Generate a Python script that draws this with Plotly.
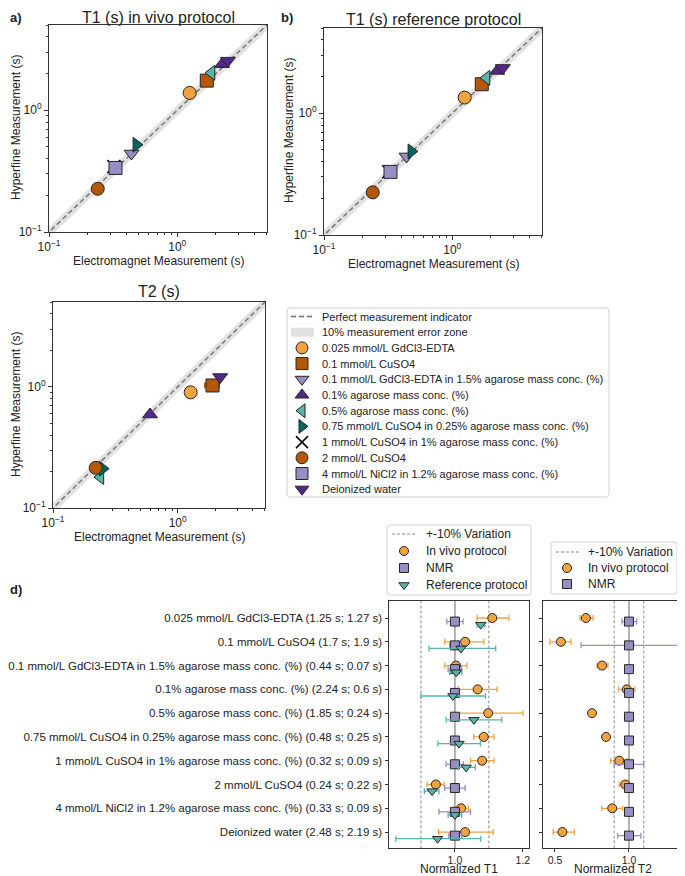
import plotly.graph_objects as go

# page is 685x876; the browser body keeps an 8 px margin, so the figure starts at (8, 8)
PAGE_W, PAGE_H = 685, 876
OFF = 8
W, H = PAGE_W - OFF, PAGE_H - OFF
FONT = "Liberation Sans, Arial, sans-serif"
TXT = "#222222"

# ---------------- data ----------------
samples = [
    "0.025 mmol/L GdCl3-EDTA",
    "0.1 mmol/L CuSO4",
    "0.1 mmol/L GdCl3-EDTA in 1.5% agarose mass conc. (%)",
    "0.1% agarose mass conc. (%)",
    "0.5% agarose mass conc. (%)",
    "0.75 mmol/L CuSO4 in 0.25% agarose mass conc. (%)",
    "1 mmol/L CuSO4 in 1% agarose mass conc. (%)",
    "2 mmol/L CuSO4",
    "4 mmol/L NiCl2 in 1.2% agarose mass conc. (%)",
    "Deionized water",
]
# electromagnet (NMR) reference values, seconds
nmr_t1 = [1.25, 1.7, 0.44, 2.24, 1.85, 0.48, 0.32, 0.24, 0.33, 2.48]
nmr_t2 = [1.27, 1.9, 0.07, 0.6, 0.24, 0.25, 0.09, 0.22, 0.09, 2.19]

# normalized T1 (hyperfine / NMR)
invivo_t1 = [1.11, 1.03, 1.003, 1.067, 1.098, 1.085, 1.08, 0.944, 1.018, 1.03]
invivo_t1_lo = [1.065, 0.97, 0.97, 1.01, 0.998, 1.055, 1.046, 0.918, 0.998, 0.952]
invivo_t1_hi = [1.159, 1.085, 1.035, 1.124, 1.2, 1.115, 1.115, 0.968, 1.04, 1.113]
nmr_t1_lo = [0.976, 0.985, 0.98, 0.99, 0.995, 0.99, 0.974, 0.97, 0.953, 0.982]
nmr_t1_hi = [1.024, 1.015, 1.02, 1.01, 1.005, 1.01, 1.025, 1.03, 1.046, 1.02]
ref_t1 = [1.076, 1.018, 1.004, 0.994, 1.056, 1.012, 1.033, 0.933, 1.0, 0.949]
ref_t1_lo = [1.065, 0.924, 0.985, 0.90, 0.974, 0.95, 1.01, 0.91, 0.98, 0.826]
ref_t1_hi = [1.088, 1.12, 1.02, 1.09, 1.138, 1.075, 1.06, 0.953, 1.02, 1.076]

# normalized T2 (hyperfine in vivo / NMR)
invivo_t2 = [0.709, 0.54, 0.818, 0.985, 0.75, 0.845, 0.934, 0.975, 0.887, 0.55]
invivo_t2_lo = [0.669, 0.466, 0.784, 0.93, 0.745, 0.84, 0.876, 0.934, 0.815, 0.487]
invivo_t2_hi = [0.757, 0.608, 0.858, 1.04, 0.755, 0.85, 0.986, 1.005, 0.957, 0.63]
nmr_t2_lo = [0.953, 0.676, 0.99, 0.99, 0.995, 0.995, 0.9, 0.99, 0.99, 0.924]
nmr_t2_hi = [1.052, 1.331, 1.01, 1.01, 1.005, 1.005, 1.1, 1.01, 1.01, 1.08]

# x error of electromagnet T2 in scatter panel c (seconds)
t2_scatter_xerr = [0, 0.25, 0, 0, 0, 0, 0, 0, 0, 0]

VAR = 0.10  # +-10 % zone

# ---------------- styles ----------------
ORANGE = "#F1A340"; BROWN = "#B35806"; LPURP = "#998EC3"
DPURP = "#542788"; TEAL = "#5AB4AC"; DTEAL = "#01665E"
sym = ["circle", "square", "triangle-down", "triangle-up", "triangle-left",
       "triangle-right", "x-thin", "circle", "square", "triangle-down"]
col = [ORANGE, BROWN, LPURP, DPURP, TEAL, DTEAL, "black", BROWN, LPURP, DPURP]
EDGE = "#262626"


def mk(i, size):
    if sym[i] == "x-thin":
        return dict(symbol="x-thin", size=size, color="black",
                    line=dict(color="black", width=1.5))
    return dict(symbol=sym[i], size=size, color=col[i], line=dict(color=EDGE, width=1))


def dx(a, b):
    return [(a - OFF) / W, (b - OFF) / W]


def dy(top, bot):
    return [1 - (bot - OFF) / H, 1 - (top - OFF) / H]


fig = go.Figure()

# ---------------- scatter panels a, b, c ----------------
scatter_panels = [
    ("x", "y", nmr_t1, invivo_t1, None),
    ("x2", "y2", nmr_t1, ref_t1, None),
    ("x3", "y3", nmr_t2, invivo_t2, t2_scatter_xerr),
]
LO, HI = 0.05, 10.0
for xa, ya, em, norm, xerr in scatter_panels:
    fig.add_trace(go.Scatter(
        x=[LO, HI, HI, LO], y=[LO * (1 - VAR), HI * (1 - VAR), HI * (1 + VAR), LO * (1 + VAR)],
        fill="toself", fillcolor="rgba(200,200,200,0.55)", mode="lines",
        line=dict(width=0), xaxis=xa, yaxis=ya, showlegend=False, hoverinfo="skip"))
    fig.add_trace(go.Scatter(
        x=[LO, HI], y=[LO, HI], mode="lines",
        line=dict(color="#7a7a7a", width=1.5, dash="5px,3px"),
        xaxis=xa, yaxis=ya, showlegend=False, hoverinfo="skip"))
    for i in range(len(samples)):
        ex = None
        if xerr is not None and xerr[i] > 0:
            ex = dict(type="data", array=[xerr[i]], color=col[i], thickness=1.5, width=3)
        fig.add_trace(go.Scatter(
            x=[em[i]], y=[em[i] * norm[i]], mode="markers", marker=mk(i, 13),
            error_x=ex, xaxis=xa, yaxis=ya, showlegend=False, name=samples[i]))

# ---------------- panel d ----------------
rows = list(range(len(samples)))
labels = [f"{s} ({a:g} s; {b:g} s)" for s, a, b in zip(samples, nmr_t1, nmr_t2)]
OFF_NMR, OFF_REF = 0.15, 0.28


def err(v, lo, hi):
    return dict(type="data", symmetric=False,
                array=[h - x for x, h in zip(v, hi)],
                arrayminus=[x - l for x, l in zip(v, lo)],
                thickness=1.3, width=3)


for xa, ya in (("x4", "y4"), ("x5", "y5")):
    fig.add_trace(go.Scatter(
        x=[1 - VAR, 1 - VAR, None, 1 + VAR, 1 + VAR], y=[-2, 12, None, -2, 12],
        mode="lines", line=dict(color="#8a8a8a", width=1, dash="3px,2px"),
        xaxis=xa, yaxis=ya, showlegend=False, hoverinfo="skip"))

# T1
e = err(invivo_t1, invivo_t1_lo, invivo_t1_hi); e["color"] = ORANGE
fig.add_trace(go.Scatter(x=invivo_t1, y=rows, mode="markers", error_x=e,
                         marker=dict(symbol="circle", size=9, color=ORANGE, line=dict(color=EDGE, width=1)),
                         xaxis="x4", yaxis="y4", showlegend=False))
e = err([1.0] * 10, nmr_t1_lo, nmr_t1_hi); e["color"] = LPURP
fig.add_trace(go.Scatter(x=[1.0] * 10, y=[r + OFF_NMR for r in rows], mode="markers", error_x=e,
                         marker=dict(symbol="square", size=9, color=LPURP, line=dict(color=EDGE, width=1)),
                         xaxis="x4", yaxis="y4", showlegend=False))
e = err(ref_t1, ref_t1_lo, ref_t1_hi); e["color"] = TEAL
fig.add_trace(go.Scatter(x=ref_t1, y=[r + OFF_REF for r in rows], mode="markers", error_x=e,
                         marker=dict(symbol="triangle-down", size=9, color=TEAL, line=dict(color=EDGE, width=1)),
                         xaxis="x4", yaxis="y4", showlegend=False))
# T2
e = err(invivo_t2, invivo_t2_lo, invivo_t2_hi); e["color"] = ORANGE
fig.add_trace(go.Scatter(x=invivo_t2, y=rows, mode="markers", error_x=e,
                         marker=dict(symbol="circle", size=9, color=ORANGE, line=dict(color=EDGE, width=1)),
                         xaxis="x5", yaxis="y5", showlegend=False))
e = err([1.0] * 10, nmr_t2_lo, nmr_t2_hi); e["color"] = LPURP
fig.add_trace(go.Scatter(x=[1.0] * 10, y=[r + OFF_NMR for r in rows], mode="markers", error_x=e,
                         marker=dict(symbol="square", size=9, color=LPURP, line=dict(color=EDGE, width=1)),
                         xaxis="x5", yaxis="y5", showlegend=False))

shapes = []
for xa, ya in (("x4", "y4"), ("x5", "y5")):
    shapes.append(dict(type="line", xref=xa, yref=ya + " domain", x0=1.0, x1=1.0, y0=0, y1=1,
                       line=dict(color="#9a9a9a", width=1.5), layer="below"))

# ---------------- manual legends (page-pixel overlay axes x6/y6) ----------------
ann = []


def box(x0, y0, x1, y1, r=3):
    p = (f"M {x0 + r},{y0} L {x1 - r},{y0} Q {x1},{y0} {x1},{y0 + r} L {x1},{y1 - r} "
         f"Q {x1},{y1} {x1 - r},{y1} L {x0 + r},{y1} Q {x0},{y1} {x0},{y1 - r} "
         f"L {x0},{y0 + r} Q {x0},{y0} {x0 + r},{y0} Z")
    shapes.append(dict(type="path", xref="x6", yref="y6", path=p, layer="below",
                       line=dict(color="#d0d0d0", width=1), fillcolor="white"))


def ltext(x, y, t, size):
    ann.append(dict(xref="x6", yref="y6", x=x, y=y, text=t, showarrow=False,
                    xanchor="left", yanchor="middle", font=dict(size=size, color=TXT)))


def lmarker(x, y, marker):
    fig.add_trace(go.Scatter(x=[x], y=[y], mode="markers", marker=marker, xaxis="x6", yaxis="y6",
                             showlegend=False, hoverinfo="skip", cliponaxis=False))


def ldash(x0, x1, y, color, width, dash):
    fig.add_trace(go.Scatter(x=[x0, x1], y=[y, y], mode="lines", line=dict(color=color, width=width, dash=dash),
                             xaxis="x6", yaxis="y6", showlegend=False, hoverinfo="skip", cliponaxis=False))


# main legend
L0x, L0y, LDY = 287, 308, 15.7
box(L0x, L0y, 609, 497)
ry = [L0y + 8.5 + k * LDY for k in range(12)]
ldash(291, 314, ry[0], "#6e6e6e", 1.5, "5px,3px")
ltext(320, ry[0], "Perfect measurement indicator", 11)
shapes.append(dict(type="rect", xref="x6", yref="y6", x0=291, x1=314, y0=ry[1] - 4.5, y1=ry[1] + 4.5,
                   line=dict(width=0), fillcolor="rgba(200,200,200,0.55)", layer="below"))
ltext(320, ry[1], "10% measurement error zone", 11)
for i in range(len(samples)):
    lmarker(302, ry[i + 2], mk(i, 12))
    ltext(320, ry[i + 2], samples[i], 11)

# legend d-left
box(387, 525, 531, 595)
r2 = [534 + k * 17 for k in range(4)]
ldash(392, 417, r2[0], "#8a8a8a", 1, "3px,2px")
ltext(424, r2[0], "+-10% Variation", 12)
lmarker(404, r2[1], dict(symbol="circle", size=9, color=ORANGE, line=dict(color=EDGE, width=1)))
ltext(424, r2[1], "In vivo protocol", 12)
lmarker(404, r2[2], dict(symbol="square", size=9, color=LPURP, line=dict(color=EDGE, width=1)))
ltext(424, r2[2], "NMR", 12)
lmarker(404, r2[3], dict(symbol="triangle-down", size=9, color=TEAL, line=dict(color=EDGE, width=1)))
ltext(424, r2[3], "Reference protocol", 12)

# legend d-right
box(551, 542, 677, 594)
r3 = [552 + k * 16 for k in range(3)]
ldash(556, 581, r3[0], "#8a8a8a", 1, "3px,2px")
ltext(586, r3[0], "+-10% Variation", 12)
lmarker(567, r3[1], dict(symbol="circle", size=9, color=ORANGE, line=dict(color=EDGE, width=1)))
ltext(586, r3[1], "In vivo protocol", 12)
lmarker(567, r3[2], dict(symbol="square", size=9, color=LPURP, line=dict(color=EDGE, width=1)))
ltext(586, r3[2], "NMR", 12)


# ---------------- titles & labels ----------------
def ctext(x, y, t, size, angle=0, bold=False, anchor="center"):
    ann.append(dict(xref="x6", yref="y6", x=x, y=y, text=f"<b>{t}</b>" if bold else t, showarrow=False,
                    xanchor=anchor, yanchor="middle", textangle=angle, font=dict(size=size, color=TXT)))


ctext(158, 17, "T1 (s) in vivo protocol", 16)
ctext(433, 19, "T1 (s) reference protocol", 16)
ctext(159, 291, "T2 (s)", 16)
ctext(158, 261, "Electromagnet Measurement (s)", 12)
ctext(433, 264, "Electromagnet Measurement (s)", 12)
ctext(159, 537, "Electromagnet Measurement (s)", 12)
ctext(16, 128, "Hyperfine Measurement (s)", 12, angle=-90)
ctext(289, 131, "Hyperfine Measurement (s)", 12, angle=-90)
ctext(16, 405, "Hyperfine Measurement (s)", 12, angle=-90)
ctext(459, 869, "Normalized T1", 12)
ctext(613, 869, "Normalized T2", 12)
ctext(8, 17, "a)", 13, bold=True, anchor="left")
ctext(279, 17, "b)", 13, bold=True, anchor="left")
ctext(8, 589, "d)", 13, bold=True, anchor="left")

# ---------------- axes ----------------
minor_vals = [0.2, 0.3, 0.4, 0.5, 0.6, 0.7, 0.8, 0.9, 2, 3, 4, 5]


def log_axis(domain, anchor):
    return dict(type="log", domain=domain, anchor=anchor, range=[-1, 0.70],
                tickmode="array", tickvals=[0.1, 1], ticktext=["10<sup>−1</sup>", "10<sup>0</sup>"],
                ticks="outside", ticklen=4, tickwidth=1, tickcolor="#333",
                showline=True, mirror=True, linecolor="#333", linewidth=1,
                showgrid=False, zeroline=False, tickfont=dict(size=12, color=TXT),
                minor=dict(tickmode="array", tickvals=minor_vals, ticks="outside", ticklen=2,
                           tickwidth=0.8, tickcolor="#333", showgrid=False))


def lin_axis(domain, anchor, rng, tv, tt, showlabels=True, tickfont=10.5, ticklen=2.5):
    return dict(domain=domain, anchor=anchor, range=rng, tickmode="array", tickvals=tv, ticktext=tt,
                ticks="outside", ticklen=ticklen, tickwidth=1, tickcolor="#333",
                showline=True, mirror=True, linecolor="#333", linewidth=1,
                showgrid=False, zeroline=False, showticklabels=showlabels,
                tickfont=dict(size=tickfont, color=TXT))


YR = [9.67, -0.715]
fig.update_layout(
    width=W, height=H, margin=dict(l=0, r=0, t=0, b=0, autoexpand=False),
    paper_bgcolor="white", plot_bgcolor="rgba(0,0,0,0)",
    font=dict(family=FONT, color=TXT),
    showlegend=False,
    xaxis=log_axis(dx(49, 267), "y"), yaxis=log_axis(dy(25, 232), "x"),
    xaxis2=log_axis(dx(324, 542), "y2"), yaxis2=log_axis(dy(28, 235), "x2"),
    xaxis3=log_axis(dx(53, 265), "y3"), yaxis3=log_axis(dy(302, 508), "x3"),
    xaxis4=lin_axis(dx(389, 529), "y4", [0.806, 1.218], [1.0, 1.2], ["1.0", "1.2"]),
    yaxis4=lin_axis(dy(601, 848), "x4", YR, rows, labels, tickfont=11.5, ticklen=3.5),
    xaxis5=lin_axis(dx(543, 683), "y5", [0.419, 1.365], [0.5, 1.0], ["0.5", "1.0"]),
    yaxis5=lin_axis(dy(601, 848), "x5", YR, rows, labels, showlabels=False, ticklen=3.5),
    xaxis6=dict(domain=[0, 1], anchor="y6", range=[OFF, OFF + W], visible=False, fixedrange=True),
    yaxis6=dict(domain=[0, 1], anchor="x6", range=[OFF + H, OFF], visible=False, fixedrange=True),
    shapes=shapes, annotations=ann,
)

fig.write_html("out.html")
